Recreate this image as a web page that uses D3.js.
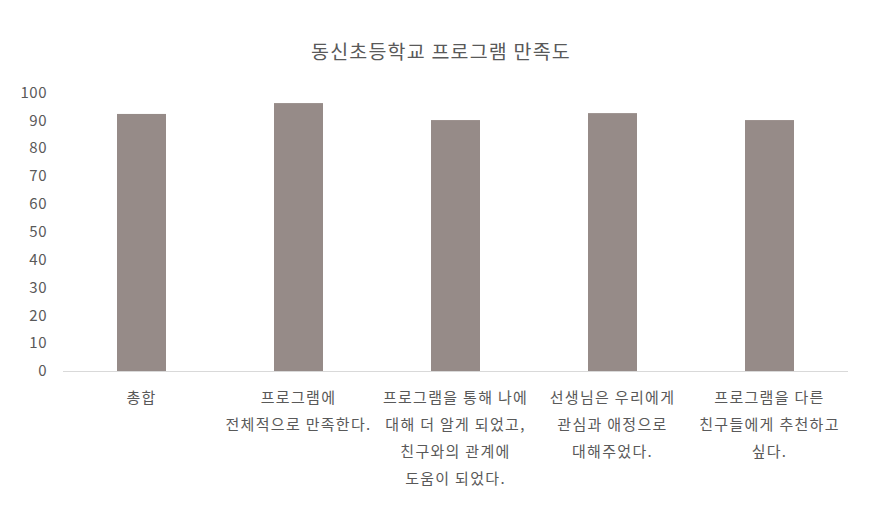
<!DOCTYPE html>
<html><head><meta charset="utf-8">
<script src="https://cdn.jsdelivr.net/npm/d3@7"></script>
<style>body{margin:0;background:#fff}svg{display:block}text{font-family:"Noto Sans CJK KR","Noto Sans",sans-serif;fill:#595959}</style>
</head><body><svg id="c" width="881" height="514"></svg>
<script>
const categories = [
  ["총합"],
  ["프로그램에","전체적으로 만족한다."],
  ["프로그램을 통해 나에","대해 더 알게 되었고,","친구와의 관계에","도움이 되었다."],
  ["선생님은 우리에게","관심과 애정으로","대해주었다."],
  ["프로그램을 다른","친구들에게 추천하고","싶다."]
];
const values = [92.3, 96.2, 90.1, 92.6, 90.1];
const yTicks = [0,10,20,30,40,50,60,70,80,90,100];
const title = "동신초등학교 프로그램 만족도";

const svg = d3.select("#c");
const pLeft = 63, pRight = 848, pTop = 92.5, pBottom = 371;
const x = d3.scaleBand().domain(d3.range(categories.length)).range([pLeft, pRight]).paddingInner(0.688).paddingOuter(0.344);
const y = d3.scaleLinear().domain([0,100]).range([pBottom, pTop]);

svg.append("text").attr("x", 441).attr("y", 52).attr("dy","0.35em").attr("text-anchor","middle")
  .style("font-size","19.5px").style("letter-spacing","1.2px").text(title);

svg.selectAll("text.yt").data(yTicks).enter().append("text").attr("class","yt")
  .attr("x", 47).attr("y", d => y(d)).attr("dy","0.35em").attr("text-anchor","end")
  .style("font-size","15px").style("letter-spacing","0.5px").text(d => d);

svg.selectAll("rect").data(values).enter().append("rect")
  .attr("x",(d,i)=>x(i)).attr("width",x.bandwidth())
  .attr("y",d=>y(d)).attr("height",d=>y(0)-y(d)).attr("fill","#968B88");

svg.append("line").attr("x1",pLeft).attr("x2",pRight).attr("y1",y(0)+0.5).attr("y2",y(0)+0.5)
  .attr("stroke","#d9d9d9").attr("stroke-width",1);

categories.forEach((lines,i)=>{
  const cx = x(i) + x.bandwidth()/2;
  lines.forEach((l,j)=>{
    svg.append("text").attr("x",cx).attr("y",398 + j*26.8).attr("dy","0.35em")
      .attr("text-anchor","middle").style("font-size","15px").style("letter-spacing","1.3px").text(l);
  });
});
</script></body></html>
